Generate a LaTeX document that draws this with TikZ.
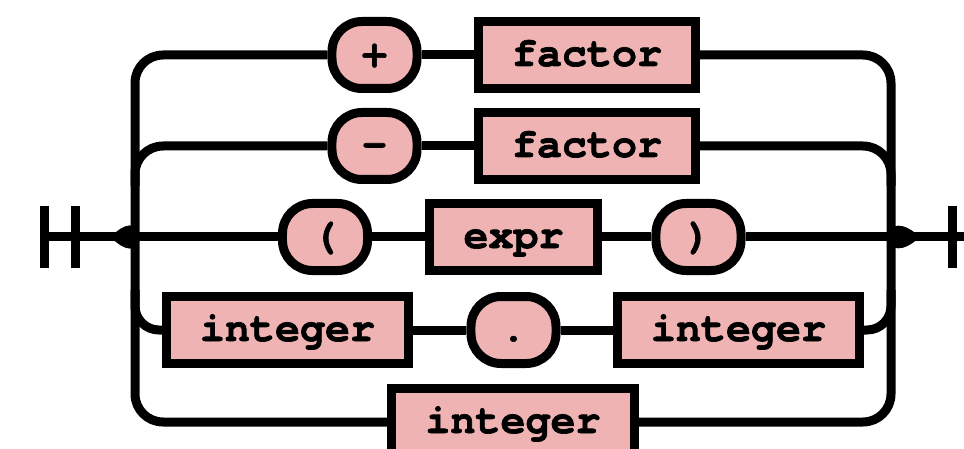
\documentclass[tikz,border=0pt]{standalone}
\usepackage{fontspec}
\newfontfamily\railfont{texgyrecursor-bold}[Extension=.otf, FakeBold=1.6]
\usepackage{tikz}
\usetikzlibrary{calc}

\definecolor{railpink}{RGB}{239,179,179}

\tikzset{
    rail/.style={line width=9pt, line cap=butt},
    token/.style={draw, line width=9pt, fill=railpink, minimum height=67pt,
        inner ysep=0pt, text height=28pt, text depth=6pt,
        font=\fontsize{41.7}{50}\selectfont\railfont},
    terminal/.style={token, rounded corners=30pt, inner xsep=30pt},
    nonterminal/.style={token, inner xsep=33.5pt}
}

\begin{document}
\begin{tikzpicture}[x=1pt, y=-1pt]
    \useasboundingbox (0, 0) rectangle (964, 449);

    % the five alternatives
    \node[terminal] (plus) at (374.5, 55) {+};
    \node[nonterminal] (fac1) at (587, 55) {factor};
    \node[terminal] (minus) at (374.5, 146) {-};
    \node[nonterminal] (fac2) at (587, 146) {factor};
    \node[terminal] (lpar) at (325, 237) {(};
    \node[nonterminal] (expr) at (513.5, 237) {expr};
    \node[terminal] (rpar) at (698.5, 237) {)};
    \node[nonterminal] (int1) at (287.5, 330) {integer};
    \node[terminal] (dot) at (513.5, 330) {.};
    \node[nonterminal] (int2) at (738.5, 330) {integer};
    \node[nonterminal] (int3) at (513, 422) {integer};

    % rails on both sides
    \coordinate (bar1) at (44, 237);
    \coordinate (bar2) at (75, 237);
    \coordinate (ltip) at (117, 237);
    \coordinate (lrail) at (135, 237);
    \coordinate (rrail) at (891, 237);
    \coordinate (rtip) at (913, 237);
    \coordinate (bar3) at (952, 237);
    \coordinate (exit) at (970, 237);

    \foreach \b in {bar1, bar2, bar3}
        \draw[rail] ($(\b) + (0, -31)$) -- ($(\b) + (0, 31)$);

    \draw[rail] (bar1) -- (lpar);
    \draw[rail] (lpar) -- (expr);
    \draw[rail] (expr) -- (rpar);
    \draw[rail] (rpar) -- (exit);

    \draw[rail] (plus) -- (fac1);
    \draw[rail] (minus) -- (fac2);
    \draw[rail] (int1) -- (dot);
    \draw[rail] (dot) -- (int2);

    % outer loops
    \draw[rail, rounded corners=28pt] (plus.west) -| ($(lrail) + (0, -24)$) to[out=-90, in=40] (ltip);
    \draw[rail, rounded corners=28pt] (fac1.east) -| ($(rrail) + (0, -24)$) to[out=-90, in=140] (rtip);
    \draw[rail, rounded corners=28pt] (int3.west) -| ($(lrail) + (0, 24)$) to[out=90, in=-40] (ltip);
    \draw[rail, rounded corners=28pt] (int3.east) -| ($(rrail) + (0, 24)$) to[out=90, in=-140] (rtip);

    % inner branches
    \draw[rail, rounded corners=28pt] ($(lrail |- minus) + (0, 40)$) -- (lrail |- minus) -- (minus.west);
    \draw[rail, rounded corners=28pt] (fac2.east) -- (rrail |- fac2) -- ($(rrail |- fac2) + (0, 40)$);
    \draw[rail, rounded corners=24pt] ($(lrail |- int1) + (0, -40)$) -- (lrail |- int1) -- (int1.west);
    \draw[rail, rounded corners=24pt] (int2.east) -- (rrail |- int2) -- ($(rrail |- int2) + (0, -40)$);
\end{tikzpicture}
\end{document}
